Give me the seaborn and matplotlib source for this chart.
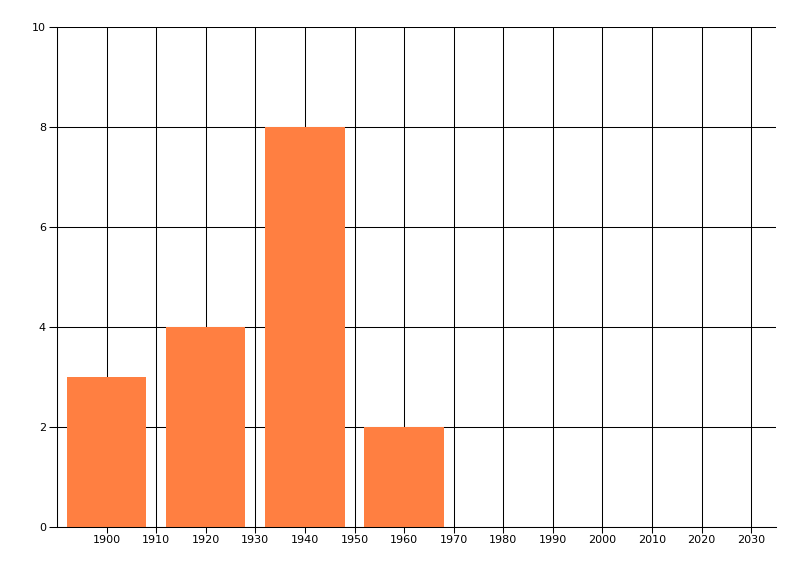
import matplotlib
matplotlib.use("Agg")
import matplotlib.pyplot as plt
import seaborn as sns
import pandas as pd

years = [1900, 1920, 1940, 1960]
counts = [3, 4, 8, 2]
x_ticks = list(range(1900, 2031, 10))
y_ticks = [0, 2, 4, 6, 8, 10]

df = pd.DataFrame({"year": years, "count": counts})

sns.set_style("white")
plt.rcParams["font.family"] = ["DejaVu Sans"]

fig = plt.figure(figsize=(8, 5.76), dpi=100)
ax = fig.add_axes([57 / 800, 49 / 576, (776 - 57) / 800, 500 / 576])

sns.barplot(data=df, x="year", y="count", native_scale=True, width=0.8,
            color="#FF7F41", saturation=1, linewidth=0, edgecolor="none",
            ax=ax, zorder=3)

# grid lines every 10 years / 2 units
lw = 0.75
for x in range(1890, 2031, 10):
    ax.axvline(x, color="black", linewidth=lw, zorder=1)
for y in y_ticks:
    ax.axhline(y, color="black", linewidth=lw, zorder=1)

ax.set_xlim(1890, 2035)
ax.set_ylim(0, 10)
ax.set_xticks(x_ticks)
ax.set_yticks(y_ticks)
ax.set_xlabel("")
ax.set_ylabel("")
ax.tick_params(axis="x", length=4, width=lw, color="black", labelcolor="black",
               labelsize=8, pad=2)
ax.tick_params(axis="y", length=6, width=lw, color="black", labelcolor="black",
               labelsize=8, pad=2)
ax.tick_params(left=True, bottom=True)

for side in ["top", "right"]:
    ax.spines[side].set_visible(False)
for side in ["left", "bottom"]:
    ax.spines[side].set_color("black")
    ax.spines[side].set_linewidth(lw)
    ax.spines[side].set_zorder(4)

fig.savefig("out.png", dpi=100)
